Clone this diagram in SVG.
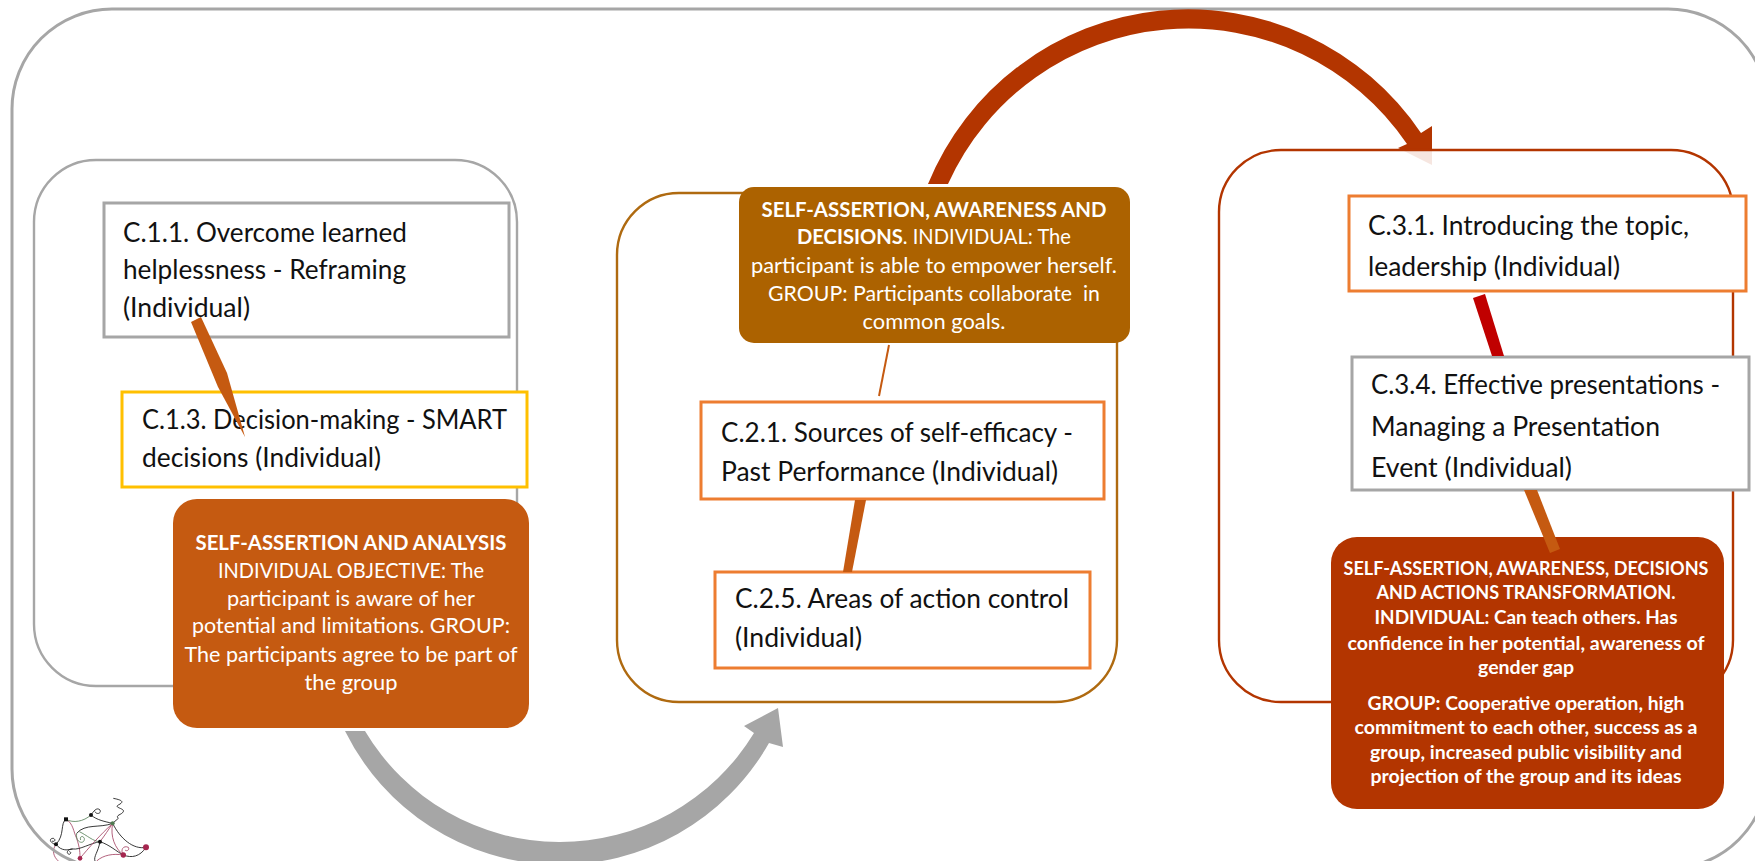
<svg xmlns="http://www.w3.org/2000/svg" width="1755" height="861" viewBox="0 0 1755 861">
<style>
text{font-family:"Lato","Carlito","Noto Sans",sans-serif}
.t{font-size:27px;fill:#111}
.w{fill:#fff;text-anchor:middle;font-size:21.5px}
.s{font-size:19.5px;font-weight:700}
.b{font-weight:700}
.panel{fill:#fff;fill-opacity:.88;stroke-width:2.4}
.box{fill:#fff;stroke-width:3}
.lk{fill:none;stroke:#1a1a1a;stroke-width:2.6}
.lm{fill:none;stroke:#a03a5c;stroke-width:2.4}
.lg{fill:none;stroke:#4f7a50;stroke-width:2.4}
</style>
<rect width="1755" height="861" fill="#fff"/>
<g id="logo" transform="translate(30 785) scale(.3333)">
<path class="lk" d="M250 40C275 45 285 50 265 60C250 68 285 70 280 80C275 90 255 90 265 100L248 115"/>
<path class="lg" d="M108 103C130 115 160 110 183 90"/>
<path class="lk" d="M183 90C190 80 200 65 210 75C215 85 200 90 195 80"/>
<path class="lk" d="M183 90C200 105 225 110 248 115"/>
<path class="lk" d="M108 103C90 115 105 150 78 178"/>
<path class="lk" d="M78 178C60 175 55 160 70 160C80 165 72 172 66 168"/>
<path class="lm" d="M108 103C130 115 130 140 140 160C150 190 150 205 150 220"/>
<path class="lk" d="M248 115C210 130 165 115 140 145"/>
<path class="lg" d="M140 145C135 175 165 180 163 160C158 150 148 155 152 165"/>
<path class="lg" d="M148 140C170 150 190 170 210 170"/>
<path class="lk" d="M78 178C95 200 115 195 128 192C150 195 180 175 210 170"/>
<path class="lm" d="M248 115C235 135 225 150 210 170"/>
<path class="lm" d="M248 115C210 150 175 190 150 220"/>
<path class="lm" d="M248 115C240 155 255 190 280 210"/>
<path class="lk" d="M248 115C270 160 310 195 348 187"/>
<path class="lk" d="M210 170C240 180 260 200 280 210"/>
<path class="lm" d="M280 210C270 195 280 180 295 187C300 195 290 200 285 195"/>
<path class="lk" d="M280 210C305 220 330 215 348 187"/>
<path class="lm" d="M78 178C65 195 70 215 85 228"/>
<path class="lk" d="M128 192C115 190 105 205 118 208C125 205 122 200 118 200"/>
<path class="lk" d="M210 170C205 200 190 215 195 228"/>
<path class="lm" d="M280 210C250 205 220 210 200 228"/>
<g fill="#111"><rect x="102" y="97" width="12" height="12"/><circle cx="183" cy="90" r="6"/><circle cx="210" cy="170" r="6"/><circle cx="78" cy="178" r="6"/></g>
<g fill="#a5264f"><circle cx="348" cy="187" r="9"/><circle cx="280" cy="210" r="8"/><circle cx="150" cy="220" r="7"/></g>
<circle cx="248" cy="115" r="6" fill="#4f7a50"/>
</g>
<rect id="outer" x="12" y="9" width="1756" height="860" rx="100" ry="100" fill="none" stroke="#a6a6a6" stroke-width="3"/>
<g id="connectors-big">
<path d="M928 184A281 281 0 0 1 1421 133L1432 126V165L1398 148L1407 144A264 264 0 0 0 948 184Z" fill="#b33500"/>
<path d="M345 731A240 240 0 0 0 769 743L783 747L778 708L744 726L754 733A227 227 0 0 1 365 731Z" fill="#a6a6a6"/>
</g>
<g id="panel-1"><rect class="panel" x="34" y="160" width="483" height="526" rx="62" stroke="#a6a6a6"/></g>
<g id="panel-2"><rect class="panel" x="617" y="193" width="500" height="509" rx="62" stroke="#af6a10"/></g>
<g id="panel-3"><rect class="panel" x="1219" y="150" width="514" height="552" rx="62" stroke="#b33500"/></g>
<g id="c11"><rect class="box" x="104" y="203" width="405" height="134" stroke="#a6a6a6"/>
<text class="t" x="123" y="242" textLength="284" lengthAdjust="spacingAndGlyphs">C.1.1. Overcome learned</text><text class="t" x="123" y="279" textLength="283" lengthAdjust="spacingAndGlyphs">helplessness - Reframing</text><text class="t" x="123" y="317" textLength="127" lengthAdjust="spacingAndGlyphs">(Individual)</text></g>
<g id="c13"><rect class="box" x="122" y="392" width="405" height="95" stroke="#ffc000"/>
<text class="t" x="142" y="429" textLength="365" lengthAdjust="spacingAndGlyphs">C.1.3. Decision-making - SMART</text><text class="t" x="142" y="467" textLength="239" lengthAdjust="spacingAndGlyphs">decisions (Individual)</text></g>
<g id="obj1"><rect x="173" y="499" width="356" height="229" rx="24" fill="#c55a11"/>
<text class="w b" x="351" y="550" textLength="311" lengthAdjust="spacingAndGlyphs">SELF-ASSERTION AND ANALYSIS</text>
<text class="w" x="351" y="578" textLength="266" lengthAdjust="spacingAndGlyphs">INDIVIDUAL OBJECTIVE: The</text>
<text class="w" x="351" y="606" textLength="248" lengthAdjust="spacingAndGlyphs">participant is aware of her</text>
<text class="w" x="351" y="633" textLength="318" lengthAdjust="spacingAndGlyphs">potential and limitations. GROUP:</text>
<text class="w" x="351" y="662" textLength="333" lengthAdjust="spacingAndGlyphs">The participants agree to be part of</text>
<text class="w" x="351" y="690" textLength="93" lengthAdjust="spacingAndGlyphs">the group</text></g>
<g id="obj2"><rect x="739" y="187" width="391" height="156" rx="15" fill="#ac6200"/>
<text class="w b" x="934" y="217" textLength="345" lengthAdjust="spacingAndGlyphs">SELF-ASSERTION, AWARENESS AND</text>
<text class="w" x="934" y="244" textLength="274" lengthAdjust="spacingAndGlyphs"><tspan class="b">DECISIONS</tspan>. INDIVIDUAL: The</text>
<text class="w" x="934" y="273" textLength="366" lengthAdjust="spacingAndGlyphs">participant is able to empower herself.</text>
<text class="w" x="934" y="301" textLength="332" lengthAdjust="spacingAndGlyphs" xml:space="preserve">GROUP: Participants collaborate  in</text>
<text class="w" x="934" y="329" textLength="143" lengthAdjust="spacingAndGlyphs">common goals.</text></g>
<g id="c21"><rect class="box" x="701" y="402" width="403" height="97" stroke="#ed7d31"/>
<text class="t" x="721" y="442" textLength="352" lengthAdjust="spacingAndGlyphs">C.2.1. Sources of self-efficacy -</text><text class="t" x="721" y="481" textLength="337" lengthAdjust="spacingAndGlyphs">Past Performance (Individual)</text></g>
<g id="c25"><rect class="box" x="715" y="572" width="375" height="96" stroke="#ed7d31"/>
<text class="t" x="735" y="608" textLength="334" lengthAdjust="spacingAndGlyphs">C.2.5. Areas of action control</text><text class="t" x="735" y="647" textLength="127" lengthAdjust="spacingAndGlyphs">(Individual)</text></g>
<g id="c31"><rect class="box" x="1349" y="196" width="397" height="95" stroke="#ed7d31"/>
<text class="t" x="1368" y="235" textLength="321" lengthAdjust="spacingAndGlyphs">C.3.1. Introducing the topic,</text><text class="t" x="1368" y="276" textLength="252" lengthAdjust="spacingAndGlyphs">leadership (Individual)</text></g>
<g id="c34"><rect class="box" x="1352" y="357" width="397" height="133" stroke="#a6a6a6"/>
<text class="t" x="1371" y="394" textLength="349" lengthAdjust="spacingAndGlyphs">C.3.4. Effective presentations -</text><text class="t" x="1371" y="436" textLength="289" lengthAdjust="spacingAndGlyphs">Managing a Presentation</text><text class="t" x="1371" y="477" textLength="201" lengthAdjust="spacingAndGlyphs">Event (Individual)</text></g>
<g id="obj3"><rect x="1331" y="537" width="393" height="272" rx="26" fill="#b33500"/>
<text class="w s" x="1526" y="575" textLength="365" lengthAdjust="spacingAndGlyphs">SELF-ASSERTION, AWARENESS, DECISIONS</text>
<text class="w s" x="1526" y="599" textLength="299" lengthAdjust="spacingAndGlyphs">AND ACTIONS TRANSFORMATION.</text>
<text class="w s" x="1526" y="624" textLength="303" lengthAdjust="spacingAndGlyphs">INDIVIDUAL: Can teach others. Has</text>
<text class="w s" x="1526" y="650" textLength="357" lengthAdjust="spacingAndGlyphs">confidence in her potential, awareness of</text>
<text class="w s" x="1526" y="674" textLength="96" lengthAdjust="spacingAndGlyphs">gender gap</text>
<text class="w s" x="1526" y="710" textLength="317" lengthAdjust="spacingAndGlyphs">GROUP: Cooperative operation, high</text>
<text class="w s" x="1526" y="734" textLength="343" lengthAdjust="spacingAndGlyphs">commitment to each other, success as a</text>
<text class="w s" x="1526" y="759" textLength="312" lengthAdjust="spacingAndGlyphs">group, increased public visibility and</text>
<text class="w s" x="1526" y="783" textLength="311" lengthAdjust="spacingAndGlyphs">projection of the group and its ideas</text>
</g>
<g id="connectors">
<path d="M191 322L201 317L227 373L245 437L218 387Z" fill="#c55a11"/>
<path d="M889 345L879 396" stroke="#c55a11" stroke-width="2" fill="none"/>
<path d="M855 500H866L852 572H843Z" fill="#c55a11"/>
<path d="M1473 298L1485 294L1504 356H1492Z" fill="#c00000"/>
<path d="M1524 490H1537L1560 549L1550 553Z" fill="#c55a11"/>
</g>
</svg>
